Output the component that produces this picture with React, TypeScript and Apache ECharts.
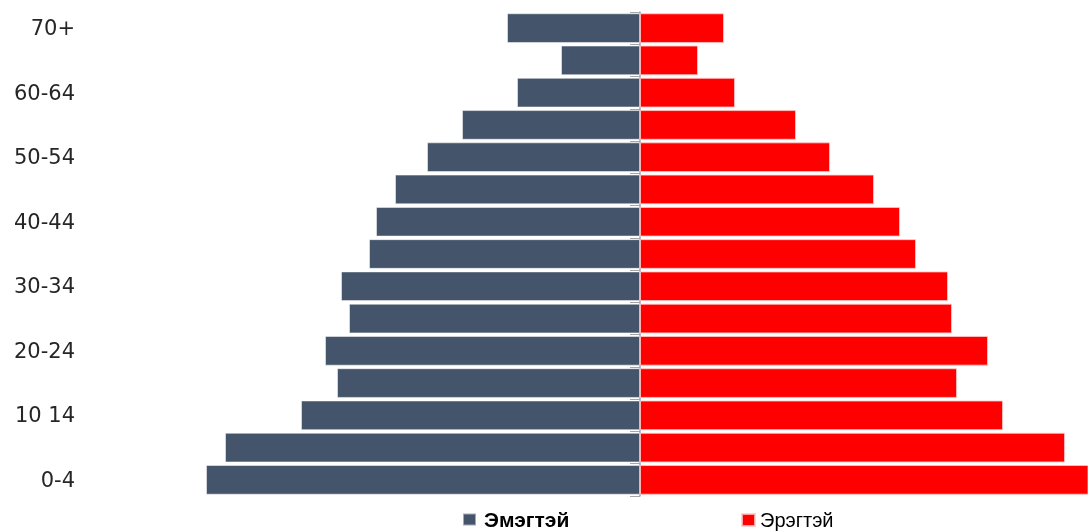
import React, { useEffect, useRef } from "react";
import * as echarts from "echarts";

const categories = [
  "0-4", "5-9", "10 14", "15-19", "20-24", "25-29", "30-34", "35-39",
  "40-44", "45-49", "50-54", "55-59", "60-64", "65-69", "70+",
];
// Эмэгтэй (left side)
const female = [43.4, 41.5, 33.9, 30.3, 31.5, 29.1, 29.9, 27.1, 26.4, 24.5, 21.3, 17.8, 12.3, 7.9, 13.3];
// Эрэгтэй (right side)
const male = [46.0, 42.5, 36.3, 31.7, 34.8, 31.2, 30.8, 27.6, 26.0, 23.4, 19.0, 15.6, 9.5, 5.8, 8.4];

export default function App() {
  const ref = useRef<HTMLDivElement>(null);
  useEffect(() => {
    if (!ref.current) return;
    const chart = echarts.init(ref.current, null, { renderer: "svg" });
    chart.setOption({
      animation: false,
      grid: { left: 85, right: 0, top: 12, bottom: 35, containLabel: false, outerBoundsMode: "none" },
      legend: [
        {
          left: 462,
          top: 509,
          padding: 0,
          itemWidth: 13,
          itemHeight: 12,
          icon: "rect",
          textStyle: { fontFamily: "Liberation Sans", color: "#000", fontSize: 21, lineHeight: 18, fontWeight: "bold", padding: [0, 0, 0, 3] },
          data: ["Эмэгтэй"],
        },
        {
          left: 741,
          top: 510,
          padding: 0,
          itemWidth: 13,
          itemHeight: 12,
          icon: "rect",
          textStyle: { fontFamily: "Liberation Sans", color: "#000", fontSize: 20, lineHeight: 18, padding: [0, 0, 0, 0] },
          data: ["Эрэгтэй"],
        },
      ],
      xAxis: {
        type: "value",
        min: -55.5,
        max: 44.8,
        show: false,
      },
      yAxis: [
        {
          type: "category",
          data: categories,
          position: "left",
          axisLine: { show: false, onZero: false },
          axisTick: { show: false },
          axisLabel: {
            interval: 1,
            margin: 10,
            fontFamily: "DejaVu Sans",
            fontSize: 21,
            color: "#262626",
          },
          splitLine: { show: false },
        },
        {
          type: "category",
          data: categories,
          position: "left",
          axisLine: { show: true, onZero: true, lineStyle: { color: "#A6A6A6", width: 1.5 } },
          axisTick: { show: true, interval: 0, length: 10, lineStyle: { color: "#A6A6A6" } },
          axisLabel: { show: false },
          splitLine: { show: false },
        },
      ],
      series: [
        {
          name: "Эмэгтэй",
          type: "bar",
          stack: "p",
          yAxisIndex: 0,
          barCategoryGap: "8%",
          data: female.map((v) => -v),
          itemStyle: { color: "#44546A", borderColor: "rgba(255,255,255,0.5)", borderWidth: 1 },
        },
        {
          name: "Эрэгтэй",
          type: "bar",
          stack: "p",
          yAxisIndex: 0,
          barCategoryGap: "8%",
          data: male,
          itemStyle: { color: "#FF0000", borderColor: "rgba(255,200,200,0.8)", borderWidth: 1 },
        },
      ],
    });
    return () => chart.dispose();
  }, []);
  return (
    <div
      ref={ref}
      style={{ position: "fixed", left: 0, top: 0, width: 1088, height: 531 }}
    />
  );
}
